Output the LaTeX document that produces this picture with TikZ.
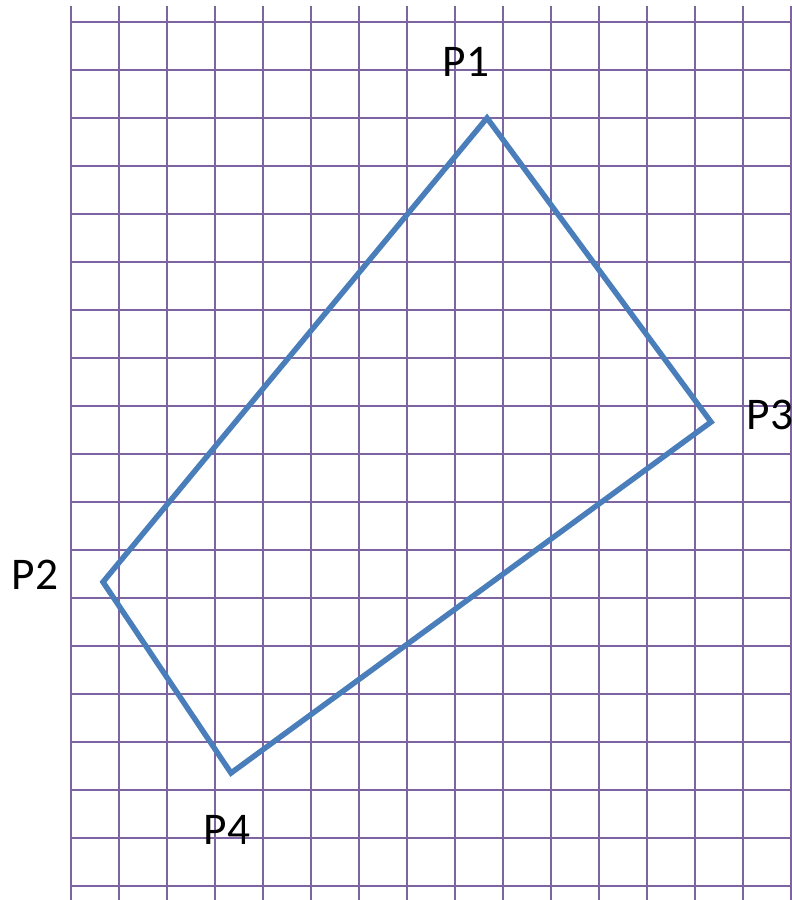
\documentclass[tikz,border=0pt]{standalone}
\usepackage{fontspec}
\setmainfont{Carlito}
\usetikzlibrary{positioning}
\definecolor{gridpurple}{HTML}{7F64A2}
\definecolor{shapeblue}{HTML}{4A7EBB}

\begin{document}
\begin{tikzpicture}[x=0.75pt, y=-0.75pt,
  gridline/.style={draw=gridpurple, line width=1.6pt},
  outline/.style={draw=shapeblue, line width=4.1pt},
  ptlabel/.style={font=\fontsize{34}{40}\selectfont, inner sep=0pt}]
  \useasboundingbox (0,0) rectangle (792,900);

  % grid
  \foreach \gx in {71,119,...,791} \draw [gridline] (\gx,6) -- (\gx,900);
  \foreach \gy in {22,70,...,886} \draw [gridline] (71,\gy) -- (792,\gy);

  % corners of the box
  \coordinate (p1) at (487,118);
  \coordinate (p2) at (103,582);
  \coordinate (p3) at (711,422);
  \coordinate (p4) at (231,773);

  \draw [outline] (p1) -- (p3) -- (p4) -- (p2) -- cycle;

  \node [ptlabel] (l1) at (466,62) {P1};
  \node [ptlabel] (l2) at (35,575) {P2};
  \node [ptlabel] (l3) at (770,415) {P3};
  \node [ptlabel] (l4) at (227,830) {P4};
\end{tikzpicture}
\end{document}
